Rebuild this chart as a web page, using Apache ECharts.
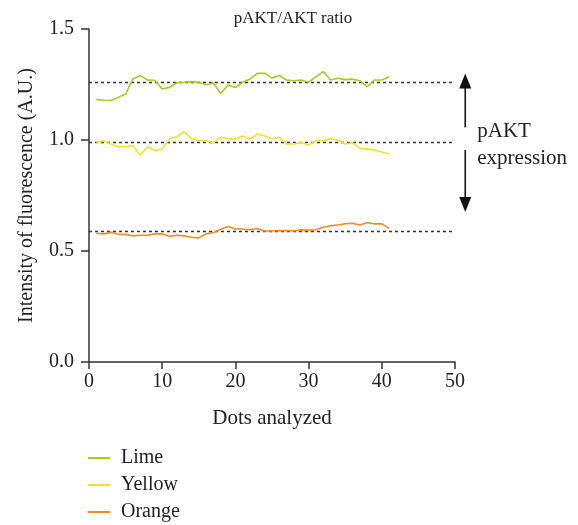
<!DOCTYPE html>
<html>
<head>
<meta charset="utf-8">
<script src="https://cdn.jsdelivr.net/npm/echarts@6/dist/echarts.min.js"></script>
<style>
html,body{margin:0;padding:0;background:#fff;}
#chart{width:578px;height:525px;}
</style>
</head>
<body>
<div id="chart"></div>
<script>
const dots = Array.from({length: 41}, (_, i) => i + 1);
const lime = [1.183,1.179,1.178,1.192,1.207,1.275,1.290,1.270,1.269,1.230,1.237,1.258,1.260,1.263,1.260,1.249,1.257,1.209,1.248,1.237,1.260,1.275,1.300,1.300,1.279,1.291,1.270,1.267,1.270,1.260,1.284,1.308,1.270,1.278,1.272,1.274,1.267,1.240,1.270,1.270,1.285];
const yellow = [0.989,0.995,0.982,0.970,0.970,0.974,0.932,0.970,0.953,0.959,1.005,1.015,1.037,1.008,0.997,0.997,0.988,1.012,1.006,1.003,1.018,1.003,1.027,1.018,1.006,1.012,0.982,0.982,0.989,0.977,0.997,0.997,1.005,1.000,0.982,0.988,0.962,0.959,0.955,0.946,0.937];
const orange = [0.580,0.577,0.584,0.575,0.575,0.568,0.571,0.571,0.577,0.577,0.566,0.571,0.568,0.562,0.559,0.577,0.583,0.598,0.610,0.599,0.599,0.596,0.601,0.590,0.590,0.592,0.592,0.590,0.595,0.593,0.596,0.607,0.614,0.617,0.623,0.625,0.617,0.628,0.622,0.622,0.602];
const refLines = {Lime: 1.257, Yellow: 0.991, Orange: 0.595};
const yTicks = ['0.0','0.5','1.0','1.5'];
const xTicks = [0,10,20,30,40,50];
const arrowRange = [1.30, 0.676];
const arrowX = 51.4;

const FONT = '"Liberation Serif", "DejaVu Serif", serif';
const colors = {Lime: '#a5cc1e', Yellow: '#f3e127', Orange: '#f08b24'};
const seriesData = {Lime: lime, Yellow: yellow, Orange: orange};

const chart = echarts.init(document.getElementById('chart'));

function makeSeries(name) {
  return {
    name: name,
    type: 'line',
    data: dots.map((d, i) => [d, seriesData[name][i]]),
    showSymbol: false,
    symbol: 'none',
    lineStyle: {color: colors[name], width: 1.6},
    itemStyle: {color: colors[name]},
    z: 3,
    markLine: {
      silent: true,
      symbol: 'none',
      label: {show: false},
      lineStyle: {color: '#333', type: [3, 3], width: 1.4},
      data: [{yAxis: refLines[name]}],
      z: 2
    }
  };
}

const option = {
  animation: false,
  backgroundColor: '#fff',
  title: {
    text: 'pAKT/AKT ratio',
    left: 288, top: 5, textAlign: 'center',
    textStyle: {fontFamily: FONT, fontSize: 17, fontWeight: 'normal', color: '#222'}
  },
  grid: {left: 89, right: 123, top: 29, bottom: 163, containLabel: false},
  xAxis: {
    type: 'value', min: 0, max: 50, interval: 10,
    name: 'Dots analyzed', nameLocation: 'middle', nameGap: 46,
    nameTextStyle: {fontFamily: FONT, fontSize: 21, color: '#222'},
    axisLine: {show: true, lineStyle: {color: '#333', width: 1.5}},
    axisTick: {show: true, length: 7, lineStyle: {color: '#333', width: 1.5}},
    axisLabel: {fontFamily: FONT, fontSize: 20, color: '#222', margin: 10,
      formatter: v => xTicks.includes(v) ? String(v) : ''},
    splitLine: {show: false}
  },
  yAxis: {
    type: 'value', min: 0, max: 1.5, interval: 0.5,
    name: 'Intensity of fluorescence (A.U.)', nameLocation: 'middle', nameGap: 52, nameRotate: 90,
    nameTextStyle: {fontFamily: FONT, fontSize: 20, color: '#222'},
    axisLine: {show: true, lineStyle: {color: '#333', width: 1.5}},
    axisTick: {show: true, length: 8, lineStyle: {color: '#333', width: 1.5}},
    axisLabel: {fontFamily: FONT, fontSize: 20, color: '#222', margin: 15,
      formatter: v => yTicks[Math.round(v * 2)]},
    splitLine: {show: false}
  },
  legend: {
    orient: 'vertical', left: 88, top: 448, padding: 0,
    itemWidth: 22, itemHeight: 2, itemGap: 7,
    icon: 'rect',
    textStyle: {fontFamily: FONT, fontSize: 20, color: '#222', padding: [0, 0, 0, 6]},
    data: ['Lime', 'Yellow', 'Orange']
  },
  series: ['Lime', 'Yellow', 'Orange'].map(makeSeries)
};
chart.setOption(option);

const pTop = chart.convertToPixel({gridIndex: 0}, [arrowX, arrowRange[0]]);
const pBot = chart.convertToPixel({gridIndex: 0}, [arrowX, arrowRange[1]]);
const ax = pTop[0];
const head = 15, hw = 6;
chart.setOption({
  graphic: [
    {type: 'line', shape: {x1: ax, y1: pTop[1] + head - 1, x2: ax, y2: pTop[1] + 54}, style: {stroke: '#111', lineWidth: 1.6}},
    {type: 'polygon', shape: {points: [[ax, pTop[1]], [ax - hw, pTop[1] + head], [ax + hw, pTop[1] + head]]}, style: {fill: '#111'}},
    {type: 'line', shape: {x1: ax, y1: pBot[1] - 62, x2: ax, y2: pBot[1] - head + 1}, style: {stroke: '#111', lineWidth: 1.6}},
    {type: 'polygon', shape: {points: [[ax, pBot[1]], [ax - hw, pBot[1] - head], [ax + hw, pBot[1] - head]]}, style: {fill: '#111'}},
    {type: 'text', left: ax + 12, top: 118,
      style: {text: 'pAKT\nexpression', font: '21px ' + FONT, fill: '#222', lineHeight: 27}}
  ]
});
</script>
</body>
</html>
